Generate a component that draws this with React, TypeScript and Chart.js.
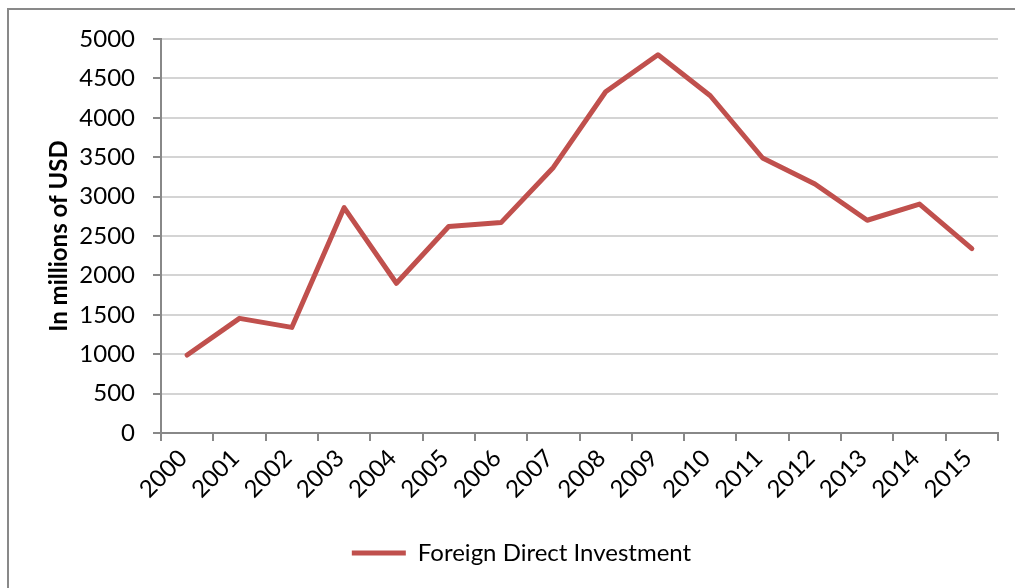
import React, { useEffect, useRef } from "react";
import { Chart, registerables } from "chart.js";

Chart.register(...registerables);

const years = ["2000","2001","2002","2003","2004","2005","2006","2007","2008","2009","2010","2011","2012","2013","2014","2015"];
const fdiValues = [990, 1455, 1340, 2860, 1900, 2620, 2670, 3370, 4330, 4800, 4280, 3490, 3160, 2700, 2905, 2340];
const seriesName = "Foreign Direct Investment";
const yTitle = "In millions of USD";

const FONT = "Lato, 'Open Sans', sans-serif";

export default function App() {
  const ref = useRef<HTMLCanvasElement | null>(null);

  useEffect(() => {
    if (!ref.current) return;
    const chart = new Chart(ref.current, {
      type: "line",
      data: {
        labels: years,
        datasets: [
          {
            label: seriesName,
            data: fdiValues,
            borderColor: "#C0504D",
            backgroundColor: "#C0504D",
            borderWidth: 5,
            pointRadius: 0,
            pointHoverRadius: 0,
            tension: 0,
            borderCapStyle: "round",
            borderJoinStyle: "round",
          },
        ],
      },
      options: {
        responsive: false,
        animation: false,
        devicePixelRatio: 1,
        layout: { padding: { left: 45, right: 17, top: 39, bottom: 13 } },
        plugins: {
          tooltip: { enabled: false },
          legend: {
            position: "bottom",
            labels: {
              usePointStyle: true,
              pointStyle: "line",
              pointStyleWidth: 54,
              boxHeight: 5,
              padding: 10,
              color: "#000",
              font: { family: FONT, size: 24 },
            },
          },
        },
        scales: {
          x: {
            type: "category",
            offset: true,
            grid: {
              offset: true,
              drawOnChartArea: false,
              drawTicks: true,
              tickLength: 8,
              tickColor: "#888888",
              tickWidth: 2,
              lineWidth: 2,
            },
            border: { display: true, color: "#888888", width: 2 },
            ticks: {
              autoSkip: false,
              minRotation: 45,
              maxRotation: 45,
              padding: 3,
              labelOffset: -4,
              color: "#000",
              font: { family: FONT, size: 24 },
            },
            afterFit: (s: any) => {
              s.height = 98;
            },
          },
          y: {
            min: 0,
            max: 5000,
            ticks: {
              stepSize: 500,
              padding: 18,
              color: "#000",
              font: { family: FONT, size: 24 },
              callback: (v: any) => String(v),
            },
            grid: {
              color: "#d4d4d4",
              lineWidth: 2,
              drawTicks: true,
              tickLength: 8,
              tickColor: "#888888",
              tickWidth: 2,
            },
            border: { display: true, color: "#888888", width: 2 },
            title: {
              display: true,
              text: yTitle,
              color: "#000",
              padding: 0,
              font: { family: FONT, size: 24, weight: "bold" },
            },
            afterFit: (s: any) => {
              s.width = 116;
            },
          },
        },
      },
    });
    return () => chart.destroy();
  }, []);

  return (
    <div style={{ position: "fixed", left: 0, top: 0, width: "100vw", height: "100vh", overflow: "hidden", background: "#fff" }}>
      <div
        style={{
          position: "absolute",
          left: 7,
          top: 8,
          width: 1200,
          height: 800,
          border: "2px solid #898989",
          boxSizing: "border-box",
        }}
      />
      <canvas
        ref={ref}
        width={1015}
        height={588}
        style={{ position: "absolute", left: 0, top: 0, width: 1015, height: 588 }}
      />
    </div>
  );
}
